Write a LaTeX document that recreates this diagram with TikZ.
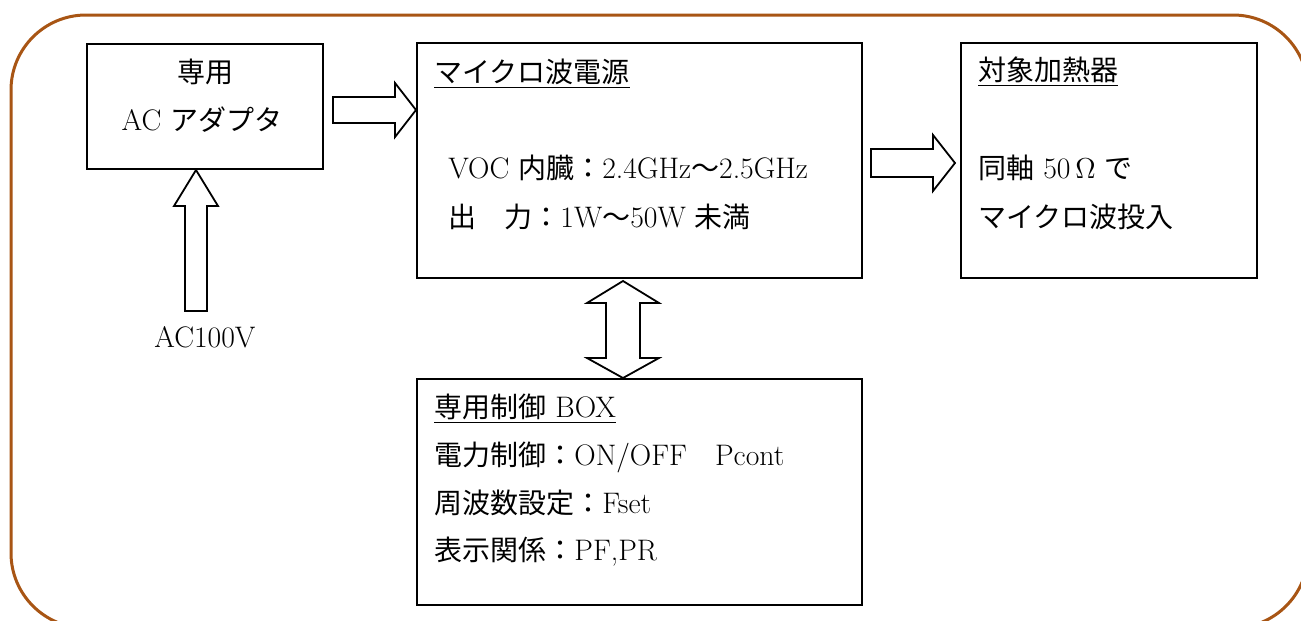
\documentclass[tikz,border=0pt]{standalone}
\usepackage{fontspec}
\setmainfont{Latin Modern Roman}[Scale=1.06]
\newfontfamily\jp{Noto Sans CJK JP}
\usetikzlibrary{calc}
\definecolor{framebrown}{RGB}{168,85,20}
\tikzset{
  box/.style={draw, line width=1pt, inner sep=0pt},
  lbl/.style={inner sep=0pt, font=\fontsize{14}{16}\selectfont, text height=12pt, text depth=2pt},
  blockarrow/.style={draw, fill=white, line width=0.9pt, line join=miter},
}
\begin{document}
\begin{tikzpicture}[x=0.5pt, y=-0.5pt]
  \useasboundingbox (0,0) rectangle (1301,621);
  \draw[framebrown, line width=1.5pt, rounded corners=37.5pt] (11,15) rectangle (1308,628);

  % boxes
  \node[box, minimum width=118pt, minimum height=62.5pt] (ac) at (205,106.5) {};
  \node[box, minimum width=222.5pt, minimum height=117.5pt] (mw) at (639.5,160.5) {};
  \node[box, minimum width=148pt, minimum height=117.5pt] (heater) at (1109,160.5) {};
  \node[box, minimum width=222.5pt, minimum height=113pt] (ctrl) at (639.5,492) {};

  % texts
  \node[lbl] (ac1) at (205,72) {{\jp 専用}};
  \node[lbl] (ac2) at (202,120) {AC {\jp アダプタ}};
  \node[lbl] (acv) at (205,337) {AC100V};

  \node[lbl, anchor=west] (mwt) at (434,72) {\underline{{\jp マイクロ波電源}}};
  \node[lbl, anchor=west] (mw1) at (448,168) {VOC {\jp 内臓：}2.4GHz{\jp ～}2.5GHz};
  \node[lbl, anchor=west] (mw2) at (448,217) {{\jp 出　力：}1W{\jp ～}50W {\jp 未満}};

  \node[lbl, anchor=west] (ht) at (978,70) {\underline{{\jp 対象加熱器}}};
  \node[lbl, anchor=west] (ht1) at (978,168) {{\jp 同軸} 50$\,\Omega$ {\jp で}};
  \node[lbl, anchor=west] (ht2) at (978,217) {{\jp マイクロ波投入}};

  \node[lbl, anchor=west] (ct) at (434,407) {\underline{{\jp 専用制御} BOX}};
  \node[lbl, anchor=west] (ct1) at (434,455) {{\jp 電力制御：}ON/OFF{\jp 　}Pcont};
  \node[lbl, anchor=west] (ct2) at (434,503) {{\jp 周波数設定：}Fset};
  \node[lbl, anchor=west] (ct3) at (434,550) {{\jp 表示関係：}PF,PR};

  % block arrows
  \coordinate (up1s) at (196,311);
  \coordinate (up1t) at (up1s |- ac.south);
  \draw[blockarrow] ($(up1s)+(-11,0)$) -- ($(up1t)+(-11,36)$) -- ($(up1t)+(-22,36)$) -- (up1t)
    -- ($(up1t)+(22,36)$) -- ($(up1t)+(11,36)$) -- ($(up1s)+(11,0)$) -- cycle;

  \coordinate (a1s) at (333,110);
  \coordinate (a1t) at (a1s -| mw.west);
  \draw[blockarrow] ($(a1s)+(0,-13)$) -- ($(a1t)+(-21,-13)$) -- ($(a1t)+(-21,-27)$) -- (a1t)
    -- ($(a1t)+(-21,27)$) -- ($(a1t)+(-21,13)$) -- ($(a1s)+(0,13)$) -- cycle;

  \coordinate (a2s) at (871,163);
  \coordinate (a2t) at ($(a2s -| heater.west)+(-5,0)$);
  \draw[blockarrow] ($(a2s)+(0,-14)$) -- ($(a2t)+(-22,-14)$) -- ($(a2t)+(-22,-28)$) -- (a2t)
    -- ($(a2t)+(-22,28)$) -- ($(a2t)+(-22,14)$) -- ($(a2s)+(0,14)$) -- cycle;

  \coordinate (dm) at (623,330);
  \coordinate (dt) at ($(dm |- mw.south)+(0,2)$);
  \coordinate (db) at (dm |- ctrl.north);
  \draw[blockarrow] (dt) -- ($(dt)+(36,22)$) -- ($(dt)+(17,22)$) -- ($(db)+(17,-20)$) -- ($(db)+(36,-20)$)
    -- (db) -- ($(db)+(-36,-20)$) -- ($(db)+(-17,-20)$) -- ($(dt)+(-17,22)$) -- ($(dt)+(-36,22)$) -- cycle;
\end{tikzpicture}
\end{document}
